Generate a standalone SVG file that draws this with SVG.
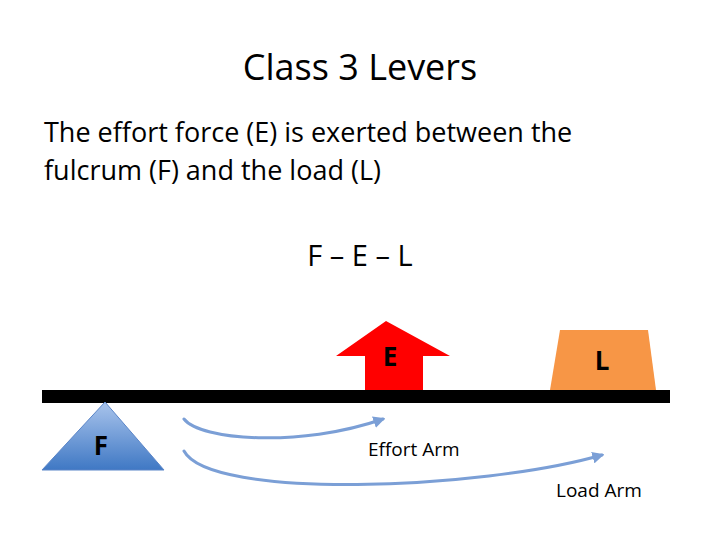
<svg xmlns="http://www.w3.org/2000/svg" width="720" height="540" viewBox="0 0 720 540">
<style>
text{font-family:"Open Sans","Liberation Sans",sans-serif;fill:#000}
.arc{fill:none;stroke:#7b9fd6;stroke-width:3;stroke-linecap:round}
.lbl{font-weight:bold;font-size:26px}
</style>
<defs>
<linearGradient id="g" x1="0" y1="0" x2="0" y2="1"><stop offset="0" stop-color="#a9c4ec"/><stop offset="1" stop-color="#3f78c4"/></linearGradient>
<marker id="ah" viewBox="0 0 10 10" refX="8" refY="5" markerWidth="4" markerHeight="4" orient="auto"><path d="M0,0 L10,5 L0,10 Z" fill="#7b9fd6"/></marker>
</defs>
<rect width="720" height="540" fill="#fff"/>
<text x="360" y="80" font-size="36" text-anchor="middle">Class 3 Levers</text>
<text x="44" y="142" font-size="27">The effort force (E) is exerted between the</text>
<text x="44" y="180" font-size="27">fulcrum (F) and the load (L)</text>
<text x="360" y="266" font-size="29" text-anchor="middle">F – E – L</text>
<g id="lever"><rect x="42" y="390" width="628" height="13" fill="#000"/></g>
<g id="fulcrum"><polygon points="105,402 42,470 164,470" fill="url(#g)" stroke="#5a85c8"/><text class="lbl" x="101" y="455" text-anchor="middle">F</text></g>
<g id="effort"><polygon points="386,321 450,356 423,356 423,390 365,390 365,356 336,356" fill="#f00"/><text class="lbl" x="390" y="366" text-anchor="middle">E</text></g>
<g id="load"><polygon points="560,330 648,330 656,390 550,390" fill="#f79646"/><text class="lbl" x="602" y="370" text-anchor="middle">L</text></g>
<g id="connectors">
<path class="arc" d="M184,419 C200,440 300,448 383,419" marker-end="url(#ah)"/>
<path class="arc" d="M184,451 C210,500 480,490 602,455" marker-end="url(#ah)"/>
</g>
<text x="368" y="456" font-size="19">Effort Arm</text>
<text x="556" y="497" font-size="19">Load Arm</text>
</svg>
